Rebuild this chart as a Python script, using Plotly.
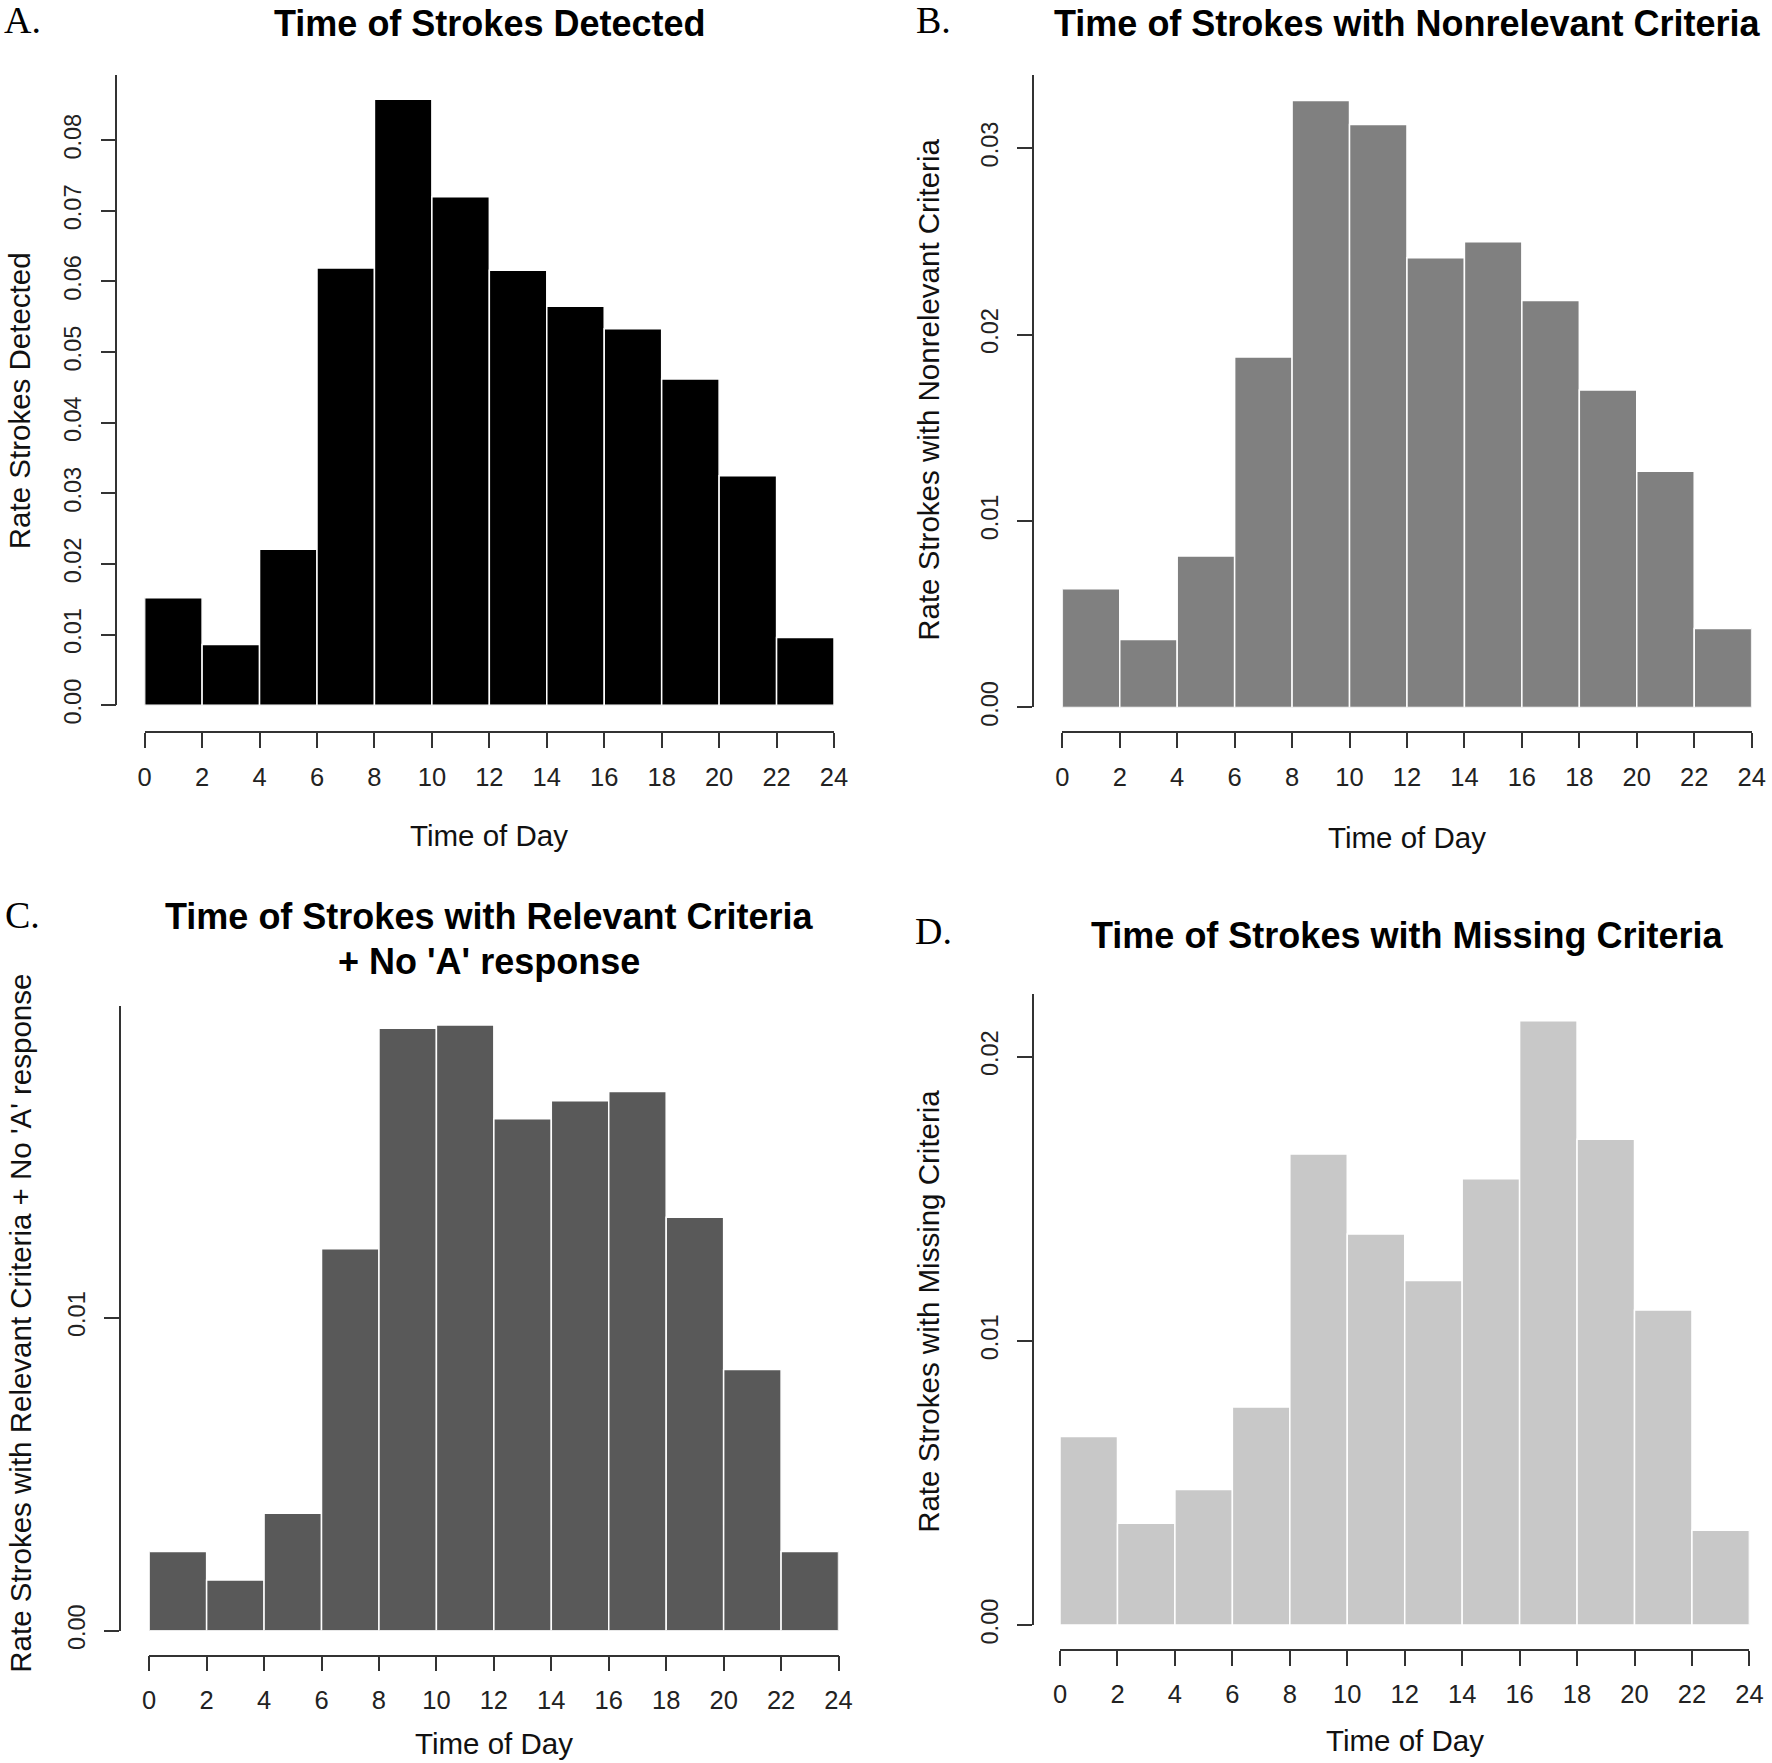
import plotly.graph_objects as go

W, H = 1772, 1763

# ---- data ----
bin_start = [0, 2, 4, 6, 8, 10, 12, 14, 16, 18, 20, 22]
bin_width = 2
x_ticks = [0, 2, 4, 6, 8, 10, 12, 14, 16, 18, 20, 22, 24]

rate_detected = [0.0152, 0.0086, 0.0221, 0.0619, 0.0858, 0.0720,
                 0.0616, 0.0565, 0.0533, 0.0462, 0.0325, 0.0096]
rate_nonrelevant = [0.00636, 0.00364, 0.00812, 0.0188, 0.03255, 0.03127,
                    0.02412, 0.02497, 0.02182, 0.01703, 0.01267, 0.00424]
rate_relevant_noA = [0.00253, 0.00162, 0.00375, 0.0122, 0.01924, 0.01935,
                     0.01635, 0.01693, 0.01722, 0.01321, 0.00834, 0.00253]
rate_missing = [0.00664, 0.00358, 0.00477, 0.00767, 0.01658, 0.01376,
                0.01213, 0.01571, 0.02127, 0.0171, 0.01109, 0.00334]

yticks_A = [0.00, 0.01, 0.02, 0.03, 0.04, 0.05, 0.06, 0.07, 0.08]
yticks_B = [0.00, 0.01, 0.02, 0.03]
yticks_C = [0.00, 0.01]
yticks_D = [0.00, 0.01, 0.02]

titles = {
    "A": ["Time of Strokes Detected"],
    "B": ["Time of Strokes with Nonrelevant Criteria"],
    "C": ["Time of Strokes with Relevant Criteria", "+ No 'A' response"],
    "D": ["Time of Strokes with Missing Criteria"],
}
ylabels = {
    "A": "Rate Strokes Detected",
    "B": "Rate Strokes with Nonrelevant Criteria",
    "C": "Rate Strokes with Relevant Criteria + No 'A' response",
    "D": "Rate Strokes with Missing Criteria",
}
xlabel = "Time of Day"

# ---- layout geometry (pixels measured on a 1568-wide view, scaled by S) ----
S = 1772 / 1568
panels = [
    dict(key="A", vals=rate_detected, yt=yticks_A, color="#000000",
         x0=128, x24=738, y0=624, ytop=66, ymax=0.0893, ylx=103, xly=648,
         tcx=433, tys=[None], lxy=(20, 18), ylab=(None, 355), xty=739),
    dict(key="B", vals=rate_nonrelevant, yt=yticks_B, color="#808080",
         x0=940, x24=1550, y0=626, ytop=66, ymax=0.03394, ylx=914, xly=648,
         tcx=1245, tys=[None], lxy=(826, 18), ylab=(822, 345), xty=741),
    dict(key="C", vals=rate_relevant_noA, yt=yticks_C, color="#595959",
         x0=132, x24=742, y0=1443, ytop=890, ymax=0.01996, ylx=106, xly=1465,
         tcx=433, tys=[811, 851], lxy=(20, 810), ylab=(18, 1171), xty=1543),
    dict(key="D", vals=rate_missing, yt=yticks_D, color="#c8c8c8",
         x0=938, x24=1548, y0=1438, ytop=880, ymax=0.02219, ylx=914, xly=1460,
         tcx=1245, tys=[828], lxy=(826, 824), ylab=(822, 1160), xty=1540),
]

SANS = "Liberation Sans, Arial, sans-serif"
SERIF = "Liberation Serif, Times New Roman, serif"
AXC = "#333333"

fig = go.Figure()
layout = dict(width=W, height=H,
              margin=dict(l=0, r=0, t=0, b=0, pad=0, autoexpand=False),
              paper_bgcolor="white", plot_bgcolor="white", showlegend=False)
annotations = []

for i, p in enumerate(panels, start=1):
    sfx = "" if i == 1 else str(i)
    fig.add_trace(go.Bar(
        x=bin_start, y=p["vals"], width=bin_width, offset=0,
        marker=dict(color=p["color"], line=dict(color="white", width=1.5)),
        xaxis="x" + sfx, yaxis="y" + sfx, hoverinfo="skip"))
    layout["xaxis" + sfx] = dict(
        domain=[p["x0"] * S / W, p["x24"] * S / W], range=[0, 24],
        anchor="free", position=1 - p["xly"] * S / H, automargin=False,
        showline=True, linecolor=AXC, linewidth=1.5,
        ticks="outside", ticklen=15, tickwidth=1.5, tickcolor=AXC,
        tickvals=x_ticks, ticktext=[str(v) for v in x_ticks],
        tickfont=dict(family=SANS, size=25.5, color="#222222"),
        ticklabelstandoff=7,
        showgrid=False, zeroline=False, fixedrange=True)
    layout["yaxis" + sfx] = dict(
        domain=[1 - p["y0"] * S / H, 1 - p["ytop"] * S / H], range=[0, p["ymax"]],
        anchor="free", position=p["ylx"] * S / W, automargin=False,
        showline=True, linecolor=AXC, linewidth=1.5,
        ticks="outside", ticklen=15, tickwidth=1.5, tickcolor=AXC,
        tickvals=p["yt"], ticktext=["%.2f" % v for v in p["yt"]],
        tickangle=-90,
        tickfont=dict(family=SANS, size=23.5, color="#222222"),
        ticklabelstandoff=10,
        showgrid=False, zeroline=False, fixedrange=True)

    for line, ty in zip(titles[p["key"]], p["tys"]):
        if ty is None:
            ypos, yanc = 1 - 1.0 / H, "top"
        else:
            ypos, yanc = 1 - ty * S / H, "middle"
        annotations.append(dict(
            text="<b>%s</b>" % line, x=p["tcx"] * S / W, y=ypos,
            xref="paper", yref="paper", xanchor="center", yanchor=yanc,
            showarrow=False, font=dict(family=SANS, size=36, color="#000000")))
    annotations.append(dict(
        text=p["key"] + ".", x=p["lxy"][0] * S / W, y=1 - p["lxy"][1] * S / H,
        xref="paper", yref="paper", xanchor="center", yanchor="middle",
        showarrow=False, font=dict(family=SERIF, size=38, color="#000000")))
    if p["ylab"][0] is None:
        yl_x, yl_anchor = 0.5 / W, "left"
    else:
        yl_x, yl_anchor = p["ylab"][0] * S / W, "center"
    annotations.append(dict(
        text=ylabels[p["key"]], x=yl_x, y=1 - p["ylab"][1] * S / H,
        xref="paper", yref="paper", xanchor=yl_anchor, yanchor="middle",
        textangle=-90, showarrow=False,
        font=dict(family=SANS, size=29.5, color="#111111")))
    annotations.append(dict(
        text=xlabel, x=(p["x0"] + p["x24"]) / 2 * S / W, y=1 - p["xty"] * S / H,
        xref="paper", yref="paper", xanchor="center", yanchor="middle",
        showarrow=False, font=dict(family=SANS, size=29.5, color="#111111")))

layout["annotations"] = annotations
fig.update_layout(**layout)

pin_page = (
    "document.documentElement.style.margin='0';"
    "document.body.style.margin='0';"
    "var g=document.getElementsByClassName('plotly-graph-div')[0];"
    "if(g){g.style.position='fixed';g.style.left='0px';g.style.top='0px';}"
)
fig.write_html("out.html", config={"displayModeBar": False}, post_script=pin_page)
